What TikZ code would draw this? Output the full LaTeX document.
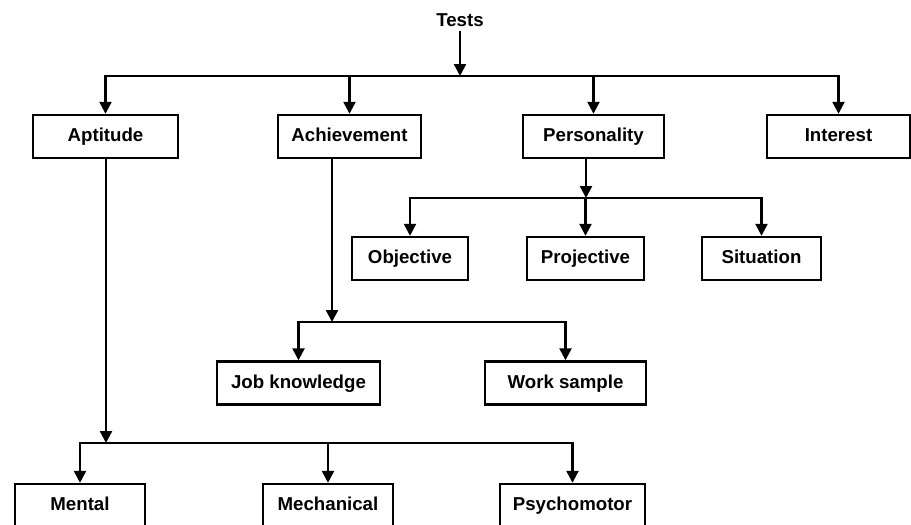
\documentclass[tikz,border=0pt]{standalone}
\usepackage{fontspec}
\setmainfont{Liberation Sans}
\usetikzlibrary{arrows.meta,positioning}

\tikzset{
  box/.style={draw,line width=1.8pt,minimum height=32.25pt,inner sep=0pt,text height=10.5pt,text depth=3pt},
  link/.style={line width=1.8pt}
}

\begin{document}
\begin{tikzpicture}[x=0.75pt,y=-0.75pt,font=\fontsize{14}{17}\selectfont\bfseries,>={Triangle[length=9pt,width=9pt]}]
\useasboundingbox (0,0) rectangle (911,525);
% top level
\node (tests) at (460,20){Tests};
\node[box,minimum width=108.75pt] (apt) at (105.5,136.5){Aptitude};
\node[box,minimum width=107.25pt] (ach) at (349.5,136.5){Achievement};
\node[box,minimum width=105.75pt] (pers) at (593.5,136.5){Personality};
\node[box,minimum width=107.25pt] (int) at (838.5,136.5){Interest};
% personality types
\node[box,minimum width=87pt] (obj) at (410,258.5){Objective};
\node[box,minimum width=87.75pt] (proj) at (585.5,258.5){Projective};
\node[box,minimum width=89.25pt] (sit) at (761.5,258.5){Situation};
% achievement types
\node[box,minimum width=122.25pt] (job) at (298.5,383){Job knowledge};
\node[box,minimum width=120.75pt] (work) at (565.5,383){Work sample};
% aptitude types
\node[box,minimum width=97.5pt] (ment) at (80,505.5){Mental};
\node[box,minimum width=97.5pt] (mech) at (328,505.5){Mechanical};
\node[box,minimum width=108.75pt] (psy) at (572.5,505.5){Psychomotor};
% junctions
\coordinate (topj) at (460,76);
\coordinate (persj) at (586,198);
\coordinate (achj) at (332,322);
\coordinate (aptj) at (106,443);
\draw[link,->] (tests) -- (topj);
\foreach \n in {apt,ach,pers,int}{\draw[link,->] (topj) -| (\n);}
\draw[link,->] (pers.south -| persj) -- (persj);
\foreach \n in {obj,proj,sit}{\draw[link,->] (persj) -| (\n);}
\draw[link,->] (ach.south -| achj) -- (achj);
\foreach \n in {job,work}{\draw[link,->] (achj) -| (\n);}
\draw[link,->] (apt.south -| aptj) -- (aptj);
\foreach \n in {ment,mech,psy}{\draw[link,->] (aptj) -| (\n);}
\end{tikzpicture}
\end{document}
